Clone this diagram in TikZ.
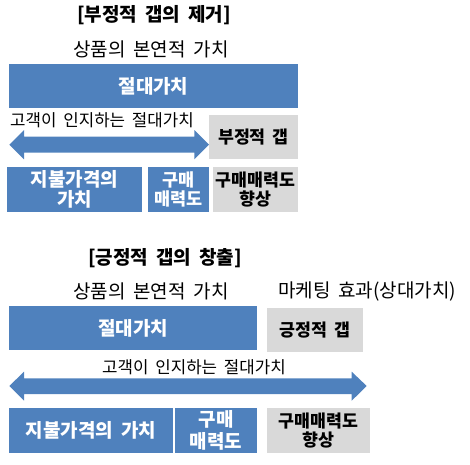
\documentclass[tikz,border=0pt]{standalone}
\usepackage{fontspec}
\setmainfont{Noto Sans CJK KR}[WordSpace=1.8]
\usetikzlibrary{positioning}
\definecolor{blu}{HTML}{4F81BD}
\definecolor{gry}{HTML}{D9D9D9}
\tikzset{
  bluebox/.style={fill=blu, text=white, font=\fontsize{19}{20}\selectfont\bfseries, align=center, inner sep=0pt},
  grybox/.style={fill=gry, text=black, font=\fontsize{17.3}{19}\selectfont\bfseries, align=center, inner sep=0pt},
  titletext/.style={font=\fontsize{19}{20}\selectfont\bfseries, inner sep=0pt},
  plaintext/.style={font=\fontsize{19}{20}\selectfont, inner sep=0pt},
  smalltext/.style={font=\fontsize{16.8}{18}\selectfont, inner sep=0pt},
  bigarrow/.style={fill=blu}
}
\begin{document}
\begin{tikzpicture}[x=1pt,y=-1pt]
\useasboundingbox (0,0) rectangle (470,464);
% ---- top ----
\node[titletext] (title1) at (154,15) {[부정적 갭의 제거]};
\node[plaintext] (sub1) at (151,49) {상품의 본연적 가치};
\node[bluebox, minimum width=289pt, minimum height=44pt] (abs1) at (153.5,86) {절대가치};
\node[smalltext, anchor=west] (perc1) at (10,120) {고객이 인지하는 절대가치};
\node[grybox, minimum width=89pt, minimum height=44pt] (neg1) at (253.5,137) {부정적 갭};
\fill[bigarrow] (9.3,144.7) -- (24,130) -- (24,136.7) -- (194.3,136.7) -- (194.3,130) -- (209,144.7) -- (194.3,159.4) -- (194.3,152.7) -- (24,152.7) -- (24,159.4) -- cycle;
\node[bluebox, minimum width=135pt, minimum height=45pt] (pay1) at (74.5,189.5) {지불가격의\\가치};
\node[bluebox, font=\fontsize{17.5}{18.5}\selectfont\bfseries, minimum width=61pt, minimum height=45pt] (attr1) at (178.5,189.5) {구매\\매력도};
\node[grybox, minimum width=85pt, minimum height=45pt] (up1) at (255.5,189.5) {구매매력도\\향상};
% ---- bottom ----
\node[titletext] (title2) at (165,258) {[긍정적 갭의 창출]};
\node[plaintext] (sub2a) at (151,291) {상품의 본연적 가치};
\node[plaintext] (sub2b) at (367,291) {마케팅 효과(상대가치)};
\node[bluebox, minimum width=248pt, minimum height=44pt] (abs2) at (133,328) {절대가치};
\node[grybox, minimum width=96pt, minimum height=44pt] (pos2) at (315,330) {긍정적 갭};
\node[smalltext] (perc2) at (194,367) {고객이 인지하는 절대가치};
\fill[bigarrow] (9.3,386) -- (24,371.7) -- (24,378.3) -- (351.7,378.3) -- (351.7,371.7) -- (366.7,386) -- (351.7,400.7) -- (351.7,394) -- (24,394) -- (24,400.7) -- cycle;
\node[bluebox, minimum width=164pt, minimum height=45pt] (pay2) at (91,430.5) {지불가격의 가치};
\node[bluebox, font=\fontsize{19}{21.5}\selectfont\bfseries, minimum width=82pt, minimum height=45pt] (attr2) at (216,430.5) {구매\\매력도};
\node[grybox, minimum width=103pt, minimum height=45pt] (up2) at (318.5,430.5) {구매매력도\\향상};
\end{tikzpicture}
\end{document}
